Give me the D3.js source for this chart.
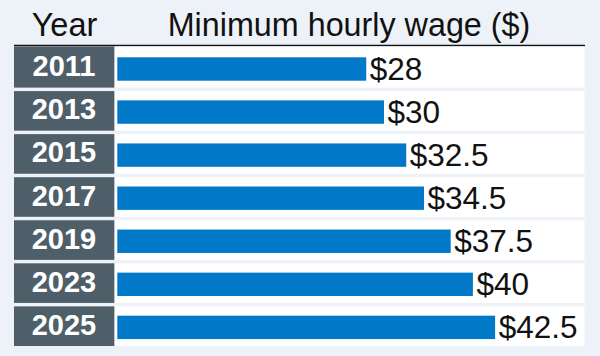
<!DOCTYPE html>
<html>
<head>
<meta charset="utf-8">
<script src="https://cdn.jsdelivr.net/npm/d3@7"></script>
<style>
  html, body { margin: 0; padding: 0; background: #edf2f9; }
  svg { display: block; }
</style>
</head>
<body>
<script>
const years = ["2011", "2013", "2015", "2017", "2019", "2023", "2025"];
const wages = [28, 30, 32.5, 34.5, 37.5, 40, 42.5];
const valueLabels = ["$28", "$30", "$32.5", "$34.5", "$37.5", "$40", "$42.5"];
const headerYear = "Year";
const headerValue = "Minimum hourly wage ($)";

const W = 600, H = 356;
const svg = d3.select("body").append("svg").attr("width", W).attr("height", H);
svg.append("rect").attr("width", W).attr("height", H).attr("fill", "#edf2f9");

const font = "'Liberation Sans', Arial, Helvetica, sans-serif";

const y = d3.scaleBand().domain(years).range([48, 346]).paddingInner(0.08).paddingOuter(0);
const x = d3.scaleLinear().domain([0, 45]).range([117.3, 117.3 + 45 * 8.89]);

// header
svg.append("text").attr("x", 64.5).attr("y", 36).attr("text-anchor", "middle")
  .attr("font-family", font).attr("font-size", 32.5).attr("fill", "#111").text(headerYear);
svg.append("text").attr("x", 349).attr("y", 36).attr("text-anchor", "middle")
  .attr("font-family", font).attr("font-size", 32.3).attr("fill", "#111").text(headerValue);
svg.append("line").attr("x1", 14).attr("x2", 585).attr("y1", 45.5).attr("y2", 45.5)
  .attr("stroke", "#111").attr("stroke-width", 1.6);

const rows = svg.selectAll("g.row").data(years).join("g").attr("class", "row");

rows.append("rect").attr("x", 14).attr("width", 100.3)
  .attr("y", (d, i) => i === 0 ? 46.5 : y(d))
  .attr("height", (d, i) => i === 0 ? y.bandwidth() + y(d) - 46.5 : y.bandwidth())
  .attr("fill", "#4e5f6a");
rows.append("rect").attr("x", 115).attr("width", 469.5)
  .attr("y", (d, i) => i === 0 ? 46.5 : y(d))
  .attr("height", (d, i) => i === 0 ? y.bandwidth() + y(d) - 46.5 : y.bandwidth())
  .attr("fill", "#ffffff");

rows.append("text").attr("x", 64).attr("y", d => y(d) + y.bandwidth() / 2 + 8.5)
  .attr("text-anchor", "middle").attr("font-family", font).attr("font-weight", "bold")
  .attr("font-size", 29).attr("fill", "#ffffff").text(d => d);

rows.append("rect").attr("x", x(0))
  .attr("y", d => y(d) + 9.3).attr("height", 23.4)
  .attr("width", (d, i) => x(wages[i]) - x(0))
  .attr("fill", "#0279c8");

rows.append("text").attr("x", (d, i) => x(wages[i]) + 3.5)
  .attr("y", d => y(d) + 9.3 + 23.4 - 0.6)
  .attr("font-family", font).attr("font-size", 31.5).attr("fill", "#111")
  .text((d, i) => valueLabels[i]);
</script>
</body>
</html>
